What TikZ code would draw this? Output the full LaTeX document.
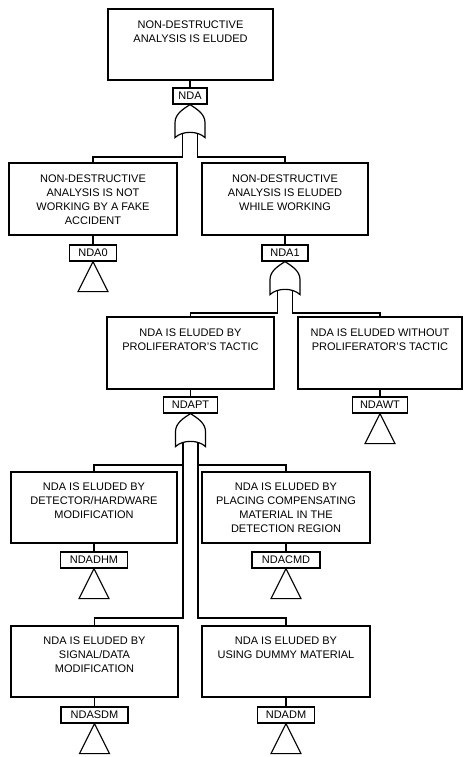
\documentclass[tikz,border=0pt]{standalone}
\usepackage{fontspec}
\setmainfont{Liberation Sans}
\begin{document}
\begin{tikzpicture}[x=1pt,y=-1pt,
  line width=1.2pt,
  evbox/.style={draw, rectangle, inner sep=0pt},
  evtext/.style={anchor=north, align=center, inner sep=0pt, font=\fontsize{11}{14}\selectfont},
  tag/.style={draw, rectangle, inner sep=0pt, minimum height=16pt, font=\fontsize{11}{13}\selectfont},
  xfer/.pic={\draw (0,0) -- (15,30) -- (-15,30) -- cycle;},
  orgate/.pic={
    \draw (-15,33) -- (-15,18) .. controls (-15,9) and (-6,4) .. (0,0)
          .. controls (6,4) and (15,9) .. (15,18) -- (15,33)
          .. controls (8,26) and (-8,26) .. cycle;
    \coordinate (-l) at (-7.5,29);
    \coordinate (-r) at (7.5,29);}
]
\useasboundingbox (0,0) rectangle (463,757);

% top event
\node[evbox, minimum width=165pt, minimum height=71pt] (T) at (190.5,44.5) {};
\node[evtext] (Tt) at ([yshift=-12pt]T.north) {NON-DESTRUCTIVE\\ANALYSIS IS ELUDED};
\node[tag, minimum width=34pt] (nda) at (190,96) {NDA};
\draw (T.south -| nda.north) -- (nda.north);
\pic (g0) at (nda.south) {orgate};

% first level
\node[evbox, minimum width=168pt, minimum height=72pt] (A) at (93,199) {};
\node[evtext] at ([yshift=-12pt]A.north) {NON-DESTRUCTIVE\\ANALYSIS IS NOT\\WORKING BY A FAKE\\ACCIDENT};
\node[evbox, minimum width=166pt, minimum height=72pt] (B) at (285,199) {};
\node[evtext] at ([yshift=-12pt]B.north) {NON-DESTRUCTIVE\\ANALYSIS IS ELUDED\\WHILE WORKING};
\draw (g0-l) |- (A.north |- 0,157) -- (A.north);
\draw (g0-r) |- (B.north |- 0,157) -- (B.north);

\node[tag, minimum width=47pt] (nda0) at (93,253) {NDA0};
\draw (A.south) -- (nda0.north);
\pic at (nda0.south) {xfer};

\node[tag, minimum width=46pt] (nda1) at (285,253) {NDA1};
\draw (B.south) -- (nda1.north);
\pic (g1) at (nda1.south) {orgate};

% second level
\node[evbox, minimum width=167pt, minimum height=72pt] (C) at (190.5,353) {};
\node[evtext] at ([yshift=-12pt]C.north) {NDA IS ELUDED BY\\PROLIFERATOR'S TACTIC};
\node[evbox, minimum width=164pt, minimum height=72pt] (D) at (380,353) {};
\node[evtext] at ([yshift=-12pt]D.north) {NDA IS ELUDED WITHOUT\\PROLIFERATOR'S TACTIC};
\draw (g1-l) |- (C.north |- 0,313) -- (C.north);
\draw (g1-r) |- (D.north |- 0,313) -- (D.north);

\node[tag, minimum width=55pt] (ndawt) at (380,405) {NDAWT};
\draw (D.south) -- (ndawt.north);
\pic at (ndawt.south) {xfer};

\node[tag, minimum width=54pt] (ndapt) at (190.5,405) {NDAPT};
\draw (C.south) -- (ndapt.north);
\pic (g2) at (ndapt.south) {orgate};

% third level
\node[evbox, minimum width=166pt, minimum height=71pt] (E) at (94,507.5) {};
\node[evtext] at ([yshift=-11pt]E.north) {NDA IS ELUDED BY\\DETECTOR/HARDWARE\\MODIFICATION};
\node[evbox, minimum width=168pt, minimum height=71pt] (F) at (286,507.5) {};
\node[evtext] at ([yshift=-11pt]F.north) {NDA IS ELUDED BY\\PLACING COMPENSATING\\MATERIAL IN THE\\DETECTION REGION};
\node[evbox, minimum width=167pt, minimum height=71pt] (G) at (94.5,661.5) {};
\node[evtext] at ([yshift=-11pt]G.north) {NDA IS ELUDED BY\\SIGNAL/DATA\\MODIFICATION};
\node[evbox, minimum width=168pt, minimum height=71pt] (H) at (286,661.5) {};
\node[evtext] at ([yshift=-11pt]H.north) {NDA IS ELUDED BY\\USING DUMMY MATERIAL};

\draw (g2-l |- 0,465) -| (E.north);
\draw (g2-r |- 0,465) -| (F.north);
\draw (g2-l) |- (G.north |- 0,618) -- (G.north);
\draw (g2-r) |- (H.north |- 0,618) -- (H.north);

\node[tag, minimum width=67pt] (ndadhm) at (94,560) {NDADHM};
\draw (E.south) -- (ndadhm.north);
\pic at (ndadhm.south) {xfer};
\node[tag, minimum width=68pt] (ndacmd) at (286,560) {NDACMD};
\draw (F.south) -- (ndacmd.north);
\pic at (ndacmd.south) {xfer};
\node[tag, minimum width=67pt] (ndasdm) at (94.5,715) {NDASDM};
\draw (G.south) -- (ndasdm.north);
\pic at (ndasdm.south) {xfer};
\node[tag, minimum width=57pt] (ndadm) at (286,715) {NDADM};
\draw (H.south) -- (ndadm.north);
\pic at (ndadm.south) {xfer};
\end{tikzpicture}
\end{document}
